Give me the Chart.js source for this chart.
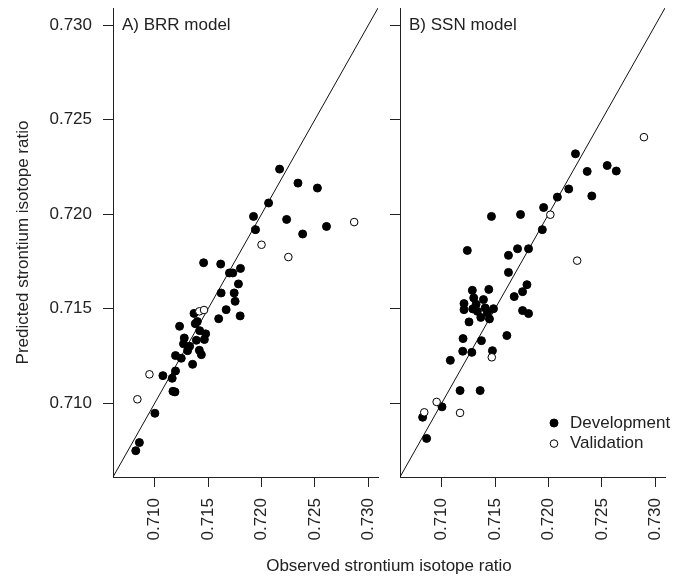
<!DOCTYPE html>
<html>
<head>
<meta charset="utf-8">
<script src="https://cdn.jsdelivr.net/npm/chart.js@4.4.1/dist/chart.umd.min.js"></script>
<style>
  body { margin: 0; background: #fff; overflow: hidden; }
  #wrap { position: relative; width: 680px; height: 580px; }
  #left { position: absolute; left: 0; top: 0; }
  #right { position: absolute; left: 390px; top: 0; }
  #xtitle {
    position: absolute; left: 189px; top: 556px; width: 400px;
    text-align: center; font: 17px 'Liberation Sans', Arial, sans-serif;
    line-height: 20px; color: #222;
  }
</style>
</head>
<body>
<div id="wrap">
  <canvas id="left" width="390" height="580"></canvas>
  <canvas id="right" width="290" height="580"></canvas>
  <div id="xtitle">Observed strontium isotope ratio</div>
</div>
<script>
// axis range and ticks (same for both axes, both panels)
const axisRange = [0.7061, 0.7309];
const tickValues = [0.710, 0.715, 0.720, 0.725, 0.730];
const legendOrder = ['Development', 'Validation'];

// A) BRR model
const brrDevObserved = [
  0.72169, 0.72341, 0.72523, 0.72066, 0.71925, 0.72235, 0.71944, 0.72385, 0.72608, 0.71458,
  0.71618, 0.71700, 0.71731, 0.71803, 0.71784, 0.71622, 0.71744, 0.71753, 0.71669, 0.71599,
  0.71800, 0.71368, 0.71399, 0.71380, 0.71233, 0.71421, 0.71477, 0.71465, 0.71277, 0.71270,
  0.71390, 0.71327, 0.71308, 0.71418, 0.71437, 0.71195, 0.71249, 0.71355, 0.71195, 0.71077,
  0.71164, 0.71190, 0.71171, 0.71002, 0.70857, 0.70823
];
const brrDevPredicted = [
  0.72238, 0.72164, 0.72138, 0.72059, 0.71988, 0.71972, 0.71918, 0.71895, 0.71935, 0.71743,
  0.71736, 0.71689, 0.71689, 0.71713, 0.71631, 0.71583, 0.71583, 0.71539, 0.71495, 0.71447,
  0.71462, 0.71475, 0.71432, 0.71421, 0.71407, 0.71384, 0.71367, 0.71337, 0.71345, 0.71314,
  0.71333, 0.71301, 0.71278, 0.71280, 0.71257, 0.71252, 0.71238, 0.71206, 0.71171, 0.71146,
  0.71132, 0.71060, 0.71063, 0.70947, 0.70792, 0.70749
];
const brrValObserved = [0.72867, 0.72000, 0.72251, 0.71418, 0.71462, 0.70951, 0.70838];
const brrValPredicted = [0.71958, 0.71838, 0.71773, 0.71486, 0.71493, 0.71153, 0.71021];

// B) SSN model
const ssnDevObserved = [
  0.72252, 0.72362, 0.72549, 0.72634, 0.72189, 0.72083, 0.72405, 0.71954, 0.71466, 0.71738,
  0.71942, 0.71240, 0.71710, 0.71813, 0.71625, 0.71625, 0.71798, 0.71757, 0.71679, 0.71441,
  0.71287, 0.71300, 0.71391, 0.71209, 0.71209, 0.71291, 0.71322, 0.71334, 0.71407, 0.71428,
  0.71485, 0.71366, 0.71447, 0.71757, 0.71813, 0.71256, 0.71610, 0.71200, 0.71372, 0.71197,
  0.71282, 0.71475, 0.71081, 0.71172, 0.71360, 0.71003, 0.70822, 0.70859
];
const ssnDevPredicted = [
  0.72319, 0.72226, 0.72257, 0.72228, 0.72133, 0.72090, 0.72096, 0.72035, 0.71988, 0.71998,
  0.71918, 0.71808, 0.71817, 0.71817, 0.71782, 0.71692, 0.71627, 0.71590, 0.71564, 0.71602,
  0.71597, 0.71557, 0.71548, 0.71527, 0.71495, 0.71499, 0.71523, 0.71486, 0.71504, 0.71478,
  0.71500, 0.71454, 0.71446, 0.71490, 0.71474, 0.71430, 0.71358, 0.71342, 0.71331, 0.71275,
  0.71269, 0.71278, 0.71227, 0.71067, 0.71067, 0.70981, 0.70926, 0.70814
];
const ssnValObserved = [0.72893, 0.72017, 0.72268, 0.71469, 0.70953, 0.71172, 0.70837];
const ssnValPredicted = [0.72407, 0.71997, 0.71754, 0.71243, 0.71007, 0.70949, 0.70952];

const fontFamily = "'Liberation Sans', Arial, sans-serif";
const textColor = '#222';
const axisColor = '#222';

const toPoints = (xs, ys) => xs.map((x, i) => ({ x: x, y: ys[i] }));

// panel label + legend drawn inside the plot area
const panelText = {
  id: 'panelText',
  afterDraw(chart, args, opts) {
    const { ctx, chartArea } = chart;
    ctx.save();
    ctx.fillStyle = textColor;
    ctx.font = '17px ' + fontFamily;
    ctx.textBaseline = 'middle';
    ctx.textAlign = 'left';
    ctx.fillText(opts.label, chartArea.left + 9, chartArea.top + 17);

    if (opts.legend) {
      legendOrder.forEach((name, i) => {
        const d = chart.data.datasets.find(ds => ds.label === name);
        const y = chartArea.bottom - 54 + i * 20.6;
        const x = chartArea.right - 111;
        ctx.beginPath();
        ctx.arc(x, y, d.pointRadius, 0, Math.PI * 2);
        ctx.fillStyle = d.pointBackgroundColor;
        ctx.fill();
        ctx.lineWidth = 1;
        ctx.strokeStyle = '#000';
        ctx.stroke();
        ctx.fillStyle = textColor;
        ctx.fillText(d.label, chartArea.right - 95, y);
      });
    }
    ctx.restore();
  }
};

function makeChart(id, devObs, devPred, valObs, valPred, label, first) {
  const ctx = document.getElementById(id).getContext('2d');
  return new Chart(ctx, {
    type: 'scatter',
    data: {
      datasets: [
        {
          label: 'Validation',
          data: toPoints(valObs, valPred),
          pointRadius: 3.8,
          pointBorderWidth: 1,
          pointBorderColor: '#000',
          pointBackgroundColor: '#fff',
          order: 0
        },
        {
          label: 'Development',
          data: toPoints(devObs, devPred),
          pointRadius: 4,
          pointBorderWidth: 1,
          pointBorderColor: '#000',
          pointBackgroundColor: '#000',
          order: 1
        },
        {
          label: '1:1',
          type: 'line',
          data: [{ x: axisRange[0], y: axisRange[0] }, { x: axisRange[1], y: axisRange[1] }],
          borderColor: '#111',
          borderWidth: 1,
          pointRadius: 0,
          order: 2
        }
      ]
    },
    options: {
      responsive: false,
      animation: false,
      events: [],
      layout: { padding: first ? { top: 8, right: 12, left: 0, bottom: 0 } : { top: 8, right: 15, left: 0, bottom: 0 } },
      plugins: {
        legend: { display: false },
        tooltip: { enabled: false },
        panelText: { label: label, legend: !first }
      },
      scales: {
        x: {
          type: 'linear',
          min: axisRange[0],
          max: axisRange[1],
          afterBuildTicks: s => { s.ticks = tickValues.map(v => ({ value: v })); },
          afterFit: s => { s.height = 103; s.paddingLeft = 0; s.paddingRight = 0; },
          grid: { drawOnChartArea: false, drawTicks: true, tickLength: 10, color: axisColor },
          border: { display: true, color: axisColor, width: 1 },
          ticks: {
            autoSkip: false,
            minRotation: 90,
            maxRotation: 90,
            padding: 11,
            color: textColor,
            font: { family: fontFamily, size: 17 },
            callback: v => v.toFixed(3)
          }
        },
        y: {
          type: 'linear',
          min: axisRange[0],
          max: axisRange[1],
          afterBuildTicks: s => { s.ticks = tickValues.map(v => ({ value: v })); },
          afterFit: s => { s.width = first ? 113 : 10; s.paddingTop = 0; s.paddingBottom = 0; },
          grid: { drawOnChartArea: false, drawTicks: true, tickLength: 10, color: axisColor },
          border: { display: true, color: axisColor, width: 1 },
          ticks: {
            display: first,
            autoSkip: false,
            padding: 11,
            color: textColor,
            font: { family: fontFamily, size: 17 },
            callback: v => v.toFixed(3)
          },
          title: {
            display: first,
            text: 'Predicted strontium isotope ratio',
            color: textColor,
            font: { family: fontFamily, size: 17 },
            padding: { top: 13, bottom: 0 }
          }
        }
      }
    },
    plugins: [panelText]
  });
}

makeChart('left', brrDevObserved, brrDevPredicted, brrValObserved, brrValPredicted, 'A) BRR model', true);
makeChart('right', ssnDevObserved, ssnDevPredicted, ssnValObserved, ssnValPredicted, 'B) SSN model', false);
</script>
</body>
</html>
